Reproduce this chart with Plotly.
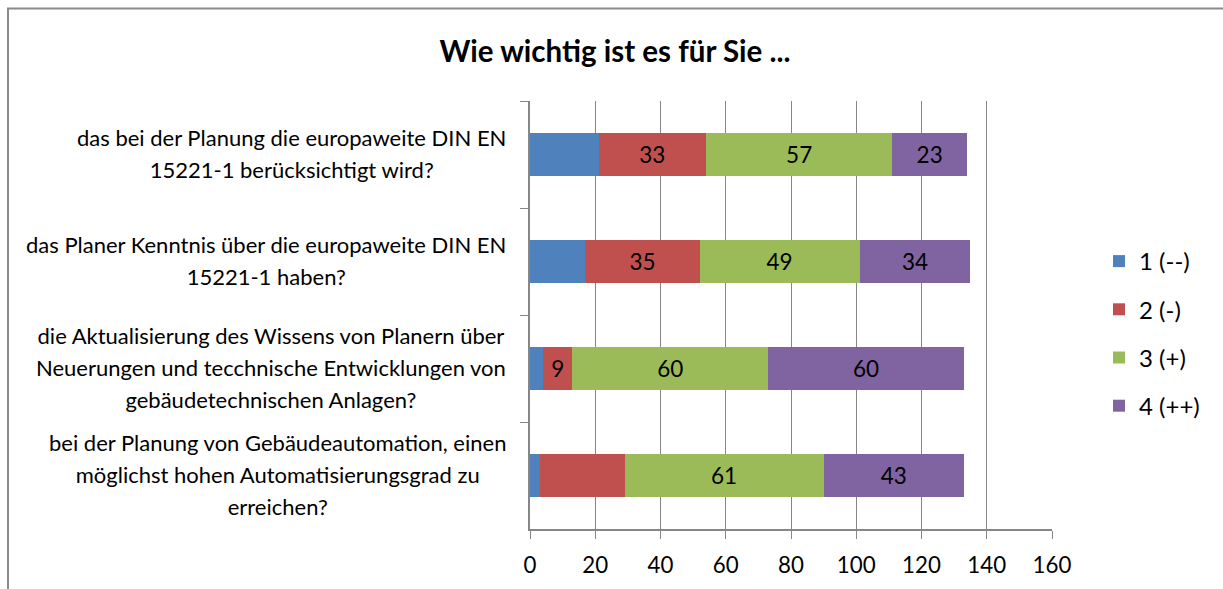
import plotly.graph_objects as go

# ---- data ----
categories = [
    "das bei der Planung die europaweite DIN EN<br>15221-1 berücksichtigt wird?",
    "das Planer Kenntnis über die europaweite DIN EN<br>15221-1 haben?",
    "die Aktualisierung des Wissens von Planern über<br>Neuerungen und tecchnische Entwicklungen von<br>gebäudetechnischen Anlagen?",
    "bei der Planung von Gebäudeautomation, einen<br>möglichst hohen Automatisierungsgrad zu<br>erreichen?",
]
series_names = ["1 (--)", "2 (-)", "3 (+)", "4 (++)"]
values_1 = [21, 17, 4, 3]
values_2 = [33, 35, 9, 26]
values_3 = [57, 49, 60, 61]
values_4 = [23, 34, 60, 43]
labels_1 = ["", "", "", ""]
labels_2 = ["33", "35", "9", ""]
labels_3 = ["57", "49", "60", "61"]
labels_4 = ["23", "34", "60", "43"]
x_ticks = [0, 20, 40, 60, 80, 100, 120, 140, 160]
title_text = "Wie wichtig ist es für Sie ..."

colors = ["#4F81BD", "#C0504D", "#9BBB59", "#8064A2"]
FONT = "Lato"
W, H = 1223, 589
ML, MR, MT, MB = 530, 171, 101, 60
PW, PH = W - ML - MR, H - MT - MB

fig = go.Figure()
for i, (name, vals, labs) in enumerate(zip(series_names,
                                           [values_1, values_2, values_3, values_4],
                                           [labels_1, labels_2, labels_3, labels_4])):
    fig.add_trace(go.Bar(
        y=categories, x=vals, name=name, orientation="h",
        marker=dict(color=colors[i], line=dict(width=0)),
        text=labs, textposition="inside", insidetextanchor="middle",
        textfont=dict(family=FONT, size=22.5, color="black"),
        constraintext="none", cliponaxis=False,
        legendgroup=name, hoverinfo="x+name",
    ))

for cat in categories:
    lines = cat.split("<br>")
    txt = "<br>".join('<span style="font-size:22px">' + ln + "</span>" for ln in lines)
    fig.add_annotation(
        x=0, xref="paper", y=cat, yref="y", xanchor="right", yanchor="middle",
        xshift=-22, yshift=1, text=txt, showarrow=False, align="center",
        font=dict(family=FONT, size=24.6, color="black"),
    )

# chart border (outer frame)
fig.add_shape(type="rect", xref="paper", yref="paper", xsizemode="pixel", ysizemode="pixel",
              xanchor=0, yanchor=1, x0=8 - ML, x1=W + 20 - ML, y0=MT - 8.5, y1=-(H + 20 - MT),
              line=dict(color="#8a8a8a", width=2), fillcolor="rgba(0,0,0,0)", layer="below")

fig.update_layout(
    width=W, height=H,
    margin=dict(l=ML, r=MR, t=MT, b=MB, pad=0),
    paper_bgcolor="white", plot_bgcolor="white",
    barmode="stack", bargap=0.6,
    showlegend=True,
    legend=dict(x=(1099 - ML) / PW, xanchor="left", y=1 - (333.5 - MT) / PH, yanchor="middle",
                traceorder="grouped", tracegroupgap=14,
                font=dict(family=FONT, size=24, color="black"), bgcolor="rgba(0,0,0,0)"),
    title=dict(text="<b>" + title_text + "</b>", x=615 / W, xanchor="center",
               y=1 - 52 / H, yanchor="middle", yref="container",
               font=dict(family=FONT, size=29.5, color="black")),
    font=dict(family=FONT, color="black"),
    xaxis=dict(range=[0, 160], tickvals=x_ticks, showgrid=True, gridcolor="#868686", gridwidth=1,
               showline=True, linecolor="#868686", linewidth=1.5, ticks="outside", ticklen=8,
               tickcolor="#868686", tickfont=dict(family=FONT, size=22.3, color="black"),
               ticklabelstandoff=7, zeroline=False, mirror=False, fixedrange=True),
    yaxis=dict(autorange="reversed", showticklabels=False, showline=True, linecolor="#868686",
               linewidth=1.5, ticks="outside", ticklen=8, tickcolor="#868686", tickson="boundaries",
               showgrid=False, zeroline=False, fixedrange=True),
)

fig.write_html("out.html", post_script="document.body.style.margin='0';",
               config={"displayModeBar": False})
